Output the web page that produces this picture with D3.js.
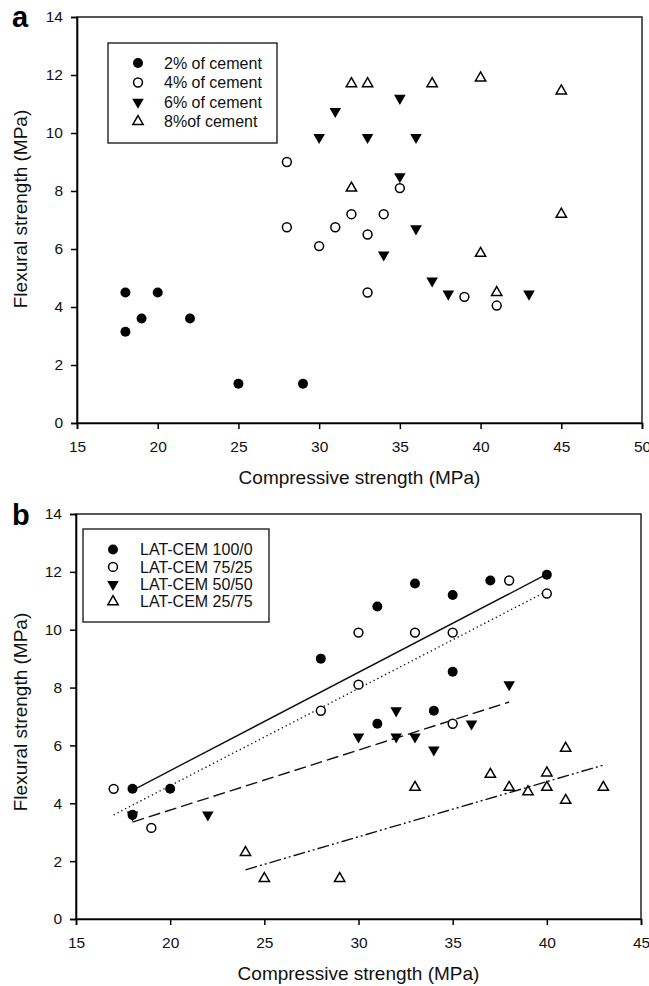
<!DOCTYPE html>
<html>
<head>
<meta charset="utf-8">
<script src="https://cdn.jsdelivr.net/npm/d3@7"></script>
<style>
  body { margin: 0; background: #fff; }
  svg { display: block; font-family: "Liberation Sans", Arial, sans-serif; }
</style>
</head>
<body>
<svg id="chart" width="649" height="986"></svg>
<script>
// ---- panel a data: [compressive, flexural]
const cem2 = [[18, 4.5], [18, 3.15], [19, 3.6], [20, 4.5], [22, 3.6], [25, 1.35], [29, 1.35]];
const cem4 = [[28, 9.0], [28, 6.75], [30, 6.1], [31, 6.75], [32, 7.2], [33, 6.5], [34, 7.2],
              [35, 8.1], [33, 4.5], [39, 4.35], [41, 4.05]];
const cem6 = [[30, 9.85], [31, 10.75], [33, 9.85], [35, 11.2], [36, 9.85], [35, 8.5], [36, 6.7],
              [34, 5.8], [37, 4.9], [38, 4.45], [43, 4.45]];
const cem8 = [[32, 11.7], [33, 11.7], [37, 11.7], [40, 11.9], [45, 11.45], [32, 8.1], [45, 7.2],
              [40, 5.85], [41, 4.5]];
const labelsA = ["2% of cement", "4% of cement", "6% of cement", "8%of cement"];

// ---- panel b data
const lat100 = [[18, 4.5], [18, 3.6], [20, 4.5], [28, 9.0], [31, 10.8], [33, 11.6], [35, 11.2],
                [37, 11.7], [40, 11.9], [35, 8.55], [34, 7.2], [31, 6.75]];
const lat75 = [[17, 4.5], [19, 3.15], [28, 7.2], [30, 8.1], [30, 9.9], [33, 9.9], [35, 9.9],
               [38, 11.7], [40, 11.25], [35, 6.75]];
const lat50 = [[18, 3.6], [22, 3.6], [30, 6.3], [32, 6.3], [33, 6.3], [32, 7.2], [34, 5.85],
               [36, 6.75], [38, 8.1]];
const lat25 = [[24, 2.3], [25, 1.4], [29, 1.4], [33, 4.55], [37, 5.0], [38, 4.55], [39, 4.4],
               [40, 5.05], [40, 4.55], [41, 5.9], [41, 4.1], [43, 4.55]];
const labelsB = ["LAT-CEM 100/0", "LAT-CEM 75/25", "LAT-CEM 50/50", "LAT-CEM 25/75"];

// fitted lines (end points)
const fit100 = [[18, 4.45], [40, 11.92]];
const fit75 = [[17, 3.6], [40, 11.33]];
const fit50 = [[18, 3.35], [38, 7.5]];
const fit25 = [[24, 1.7], [43, 5.32]];

const yTicks = [0, 2, 4, 6, 8, 10, 12, 14];
const xTicksA = [15, 20, 25, 30, 35, 40, 45, 50];
const xTicksB = [15, 20, 25, 30, 35, 40, 45];

const svg = d3.select("#chart");

// marker styles: filled circle, open circle, filled down triangle, open up triangle
const markers = [
  {type: d3.symbolCircle, size: 78, fill: "#000", stroke: "none", rot: 0},
  {type: d3.symbolCircle, size: 62, fill: "#fff", stroke: "#000", rot: 0},
  {type: d3.symbolTriangle, size: 58, fill: "#000", stroke: "none", rot: 180},
  {type: d3.symbolTriangle, size: 46, fill: "#fff", stroke: "#000", rot: 0}
];

function drawPoints(g, data, m, x, y) {
  g.selectAll(null)
    .data(data)
    .enter().append("path")
      .attr("d", d3.symbol(m.type, m.size))
      .attr("transform", d => `translate(${x(d[0])},${y(d[1])}) rotate(${m.rot})`)
      .attr("fill", m.fill)
      .attr("stroke", m.stroke)
      .attr("stroke-width", 1.5);
}

function drawPanel(opt) {
  const {x, y, xTicks, series, labels, letter, letterY, ylabelY, legend} = opt;
  const g = svg.append("g");
  const [x0, x1] = x.range();
  const [y0, y1] = y.range();

  // frame
  g.append("rect")
    .attr("x", x0).attr("y", y1)
    .attr("width", x1 - x0).attr("height", y0 - y1)
    .attr("fill", "none").attr("stroke", "#222").attr("stroke-width", 1.5);

  const ax = g.append("g")
    .attr("transform", `translate(0,${y0})`)
    .call(d3.axisBottom(x).tickValues(xTicks).tickSize(6).tickPadding(12).tickFormat(d3.format("d")));
  const ay = g.append("g")
    .attr("transform", `translate(${x0},0)`)
    .call(d3.axisLeft(y).tickValues(yTicks).tickSize(6).tickPadding(8).tickFormat(d3.format("d")));
  [ax, ay].forEach(a => {
    a.select(".domain").attr("stroke", "#000").attr("stroke-width", 1.6);
    a.selectAll(".tick line").attr("stroke", "#000").attr("stroke-width", 1.5);
    a.selectAll(".tick text").attr("font-size", 15.5).attr("fill", "#111")
      .attr("font-family", "Liberation Sans, Arial, sans-serif");
  });

  g.append("text")
    .attr("x", (x0 + x1) / 2).attr("y", y0 + 61)
    .attr("text-anchor", "middle").attr("font-size", 19).attr("fill", "#111")
    .text("Compressive strength (MPa)");
  g.append("text")
    .attr("transform", `translate(27,${ylabelY}) rotate(-90)`)
    .attr("text-anchor", "middle").attr("font-size", 19).attr("fill", "#111")
    .text("Flexural strength (MPa)");

  g.append("text")
    .attr("x", 12).attr("y", letterY)
    .attr("font-size", 29).attr("font-weight", "bold").attr("fill", "#000")
    .text(letter);

  if (opt.fits) {
    const line = d3.line().x(d => x(d[0])).y(d => y(d[1]));
    opt.fits.forEach(f => {
      g.append("path")
        .attr("d", line(f.pts))
        .attr("fill", "none").attr("stroke", "#111").attr("stroke-width", 1.4)
        .attr("stroke-dasharray", f.dash);
    });
  }

  series.forEach((s, i) => drawPoints(g, s, markers[i], x, y));

  // legend
  const lg = g.append("g");
  lg.append("rect")
    .attr("x", legend.x).attr("y", legend.y)
    .attr("width", legend.w).attr("height", legend.h)
    .attr("fill", "#fff").attr("stroke", "#222").attr("stroke-width", 1.4);
  labels.forEach((lab, i) => {
    const cy = legend.row0 + i * legend.step;
    const m = markers[i];
    lg.append("path")
      .attr("d", d3.symbol(m.type, m.size))
      .attr("transform", `translate(${legend.sx},${cy}) rotate(${m.rot})`)
      .attr("fill", m.fill).attr("stroke", m.stroke).attr("stroke-width", 1.5);
    lg.append("text")
      .attr("x", legend.tx).attr("y", cy).attr("dy", "0.36em")
      .attr("font-size", 16).attr("fill", "#111")
      .text(lab);
  });
}

drawPanel({
  x: d3.scaleLinear([15, 50], [77, 642]),
  y: d3.scaleLinear([0, 14], [423, 17]),
  xTicks: xTicksA,
  series: [cem2, cem4, cem6, cem8],
  labels: labelsA,
  letter: "a", letterY: 27, ylabelY: 209,
  legend: {x: 108, y: 43, w: 169, h: 100, sx: 138, tx: 164, row0: 63, step: 19.5}
});

drawPanel({
  x: d3.scaleLinear([15, 45], [76, 641]),
  y: d3.scaleLinear([0, 14], [919, 514]),
  xTicks: xTicksB,
  series: [lat100, lat75, lat50, lat25],
  labels: labelsB,
  letter: "b", letterY: 525, ylabelY: 712,
  legend: {x: 83, y: 529, w: 186, h: 93, sx: 113, tx: 140, row0: 549.5, step: 17.4},
  fits: [
    {pts: fit100, dash: null},
    {pts: fit75, dash: "1.3,3"},
    {pts: fit50, dash: "12,5"},
    {pts: fit25, dash: "12,3,2,3,2,3"}
  ]
});
</script>
</body>
</html>
